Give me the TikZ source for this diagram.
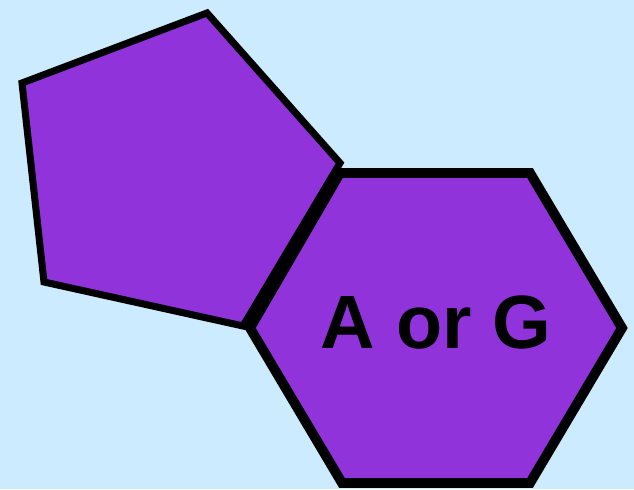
\documentclass[tikz,border=0pt]{standalone}
\usepackage{fontspec}
\setmainfont{Liberation Sans}
\usepackage{tikz}
\usetikzlibrary{positioning}
\definecolor{SkyBack}{HTML}{CCEBFF}
\definecolor{BasePurple}{HTML}{9133DB}

\begin{document}
\begin{tikzpicture}[x=0.02cm, y=-0.02cm, line join=miter]
                    \fill[color=SkyBack] (0, 0) rectangle (634, 489);
                    \useasboundingbox (0, 0) rectangle (634, 489);

                    % five-membered ring
                    \filldraw[fill=BasePurple, draw=black, line width=4pt] (207, 13) -- (340, 163) -- (243, 326) -- (44, 282) -- (22, 83) -- cycle;

                    % six-membered ring
                    \filldraw[fill=BasePurple, draw=black, line width=5.6pt] (340, 173) -- (530, 173) -- (622, 328) -- (530, 483) -- (342, 483) -- (250, 328) -- cycle;
                    \node[font=\fontsize{43}{50}\selectfont\bfseries, color=black] (label) at (436, 322) {A or G};
                \end{tikzpicture}
\end{document}
